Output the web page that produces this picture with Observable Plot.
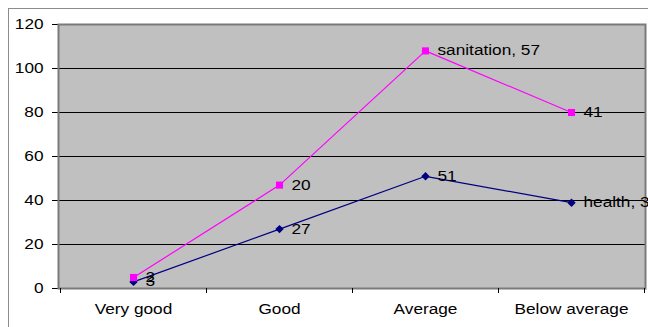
<!DOCTYPE html>
<html>
<head>
<meta charset="utf-8">
<script src="https://cdn.jsdelivr.net/npm/d3@7"></script>
<script src="https://cdn.jsdelivr.net/npm/@observablehq/plot@0.6"></script>
<style>
  html, body { margin: 0; padding: 0; background: #fff; overflow: hidden; }
  #chart { position: relative; width: 648px; height: 327px; }
  #border {
    position: absolute; left: 8px; top: 8px; width: 700px; height: 400px;
    border-left: 1px solid #8c8c8c; border-top: 1px solid #8c8c8c;
    pointer-events: none;
  }
</style>
</head>
<body>
<div id="chart"><div id="border"></div></div>
<script>
// Ratings and the two stacked series
const categories = ["Very good", "Good", "Average", "Below average"];
const seriesNames = ["health", "sanitation"];
const health = [3, 27, 51, 39];
const sanitation = [2, 20, 57, 41];
// category at which each series' label also carries the series name
const namedAt = ["Below average", "Average"];
const yTicks = [0, 20, 40, 60, 80, 100, 120];
const colors = ["#000080", "#ff00ff"];

// diamond sized to sit alongside the square markers
const diamond = {draw(context, size) { d3.symbolDiamond2.draw(context, size * 0.9); }};
const symbols = [diamond, d3.symbolSquare];

const rows = [health, sanitation].flatMap((vals, s) =>
  vals.map((v, i) => ({
    category: categories[i],
    series: seriesNames[s],
    value: v,
    label: categories[i] === namedAt[s] ? `${seriesNames[s]}, ${v}` : `${v}`
  }))
);

const stacked = (extra) => Plot.stackY2({x: "category", y: "value", z: "series", ...extra});

const plot = Plot.plot({
  width: 648,
  height: 327,
  marginLeft: 58,
  marginRight: 3,
  marginTop: 24,
  marginBottom: 39,
  style: {fontFamily: "'Liberation Sans', Arial, sans-serif", fontSize: "14px", background: "transparent", color: "#000"},
  x: {type: "band", domain: categories, padding: 0, tickSize: 0, tickPadding: 15.5, label: null},
  y: {domain: [0, 120], ticks: yTicks, tickSize: 6, tickPadding: 9, label: null},
  color: {domain: seriesNames, range: colors},
  symbol: {domain: seriesNames, range: symbols},
  marks: [
    Plot.frame({fill: "#c0c0c0"}),
    Plot.ruleY(yTicks.slice(1, -1), {stroke: "#000", strokeWidth: 1}),
    Plot.frame({stroke: "#7a7a7a", strokeWidth: 2}),
    Plot.lineY(rows, stacked({stroke: "series", strokeWidth: 1.2})),
    Plot.dot(rows, stacked({fill: "series", symbol: "series", r: 4, stroke: null})),
    Plot.text(rows, stacked({text: "label", textAnchor: "start", dx: 12, fill: "#000"}))
  ]
});

document.getElementById("chart").appendChild(plot);

// category boundary ticks below the horizontal axis
const xs = plot.scale("x");
const ys = plot.scale("y");
const y0 = ys.apply(0);
const bounds = categories.map(c => xs.apply(c)).concat([xs.apply(categories[categories.length - 1]) + xs.bandwidth]);
d3.select(plot).append("g")
  .attr("stroke", "#000")
  .selectAll("line")
  .data(bounds)
  .join("line")
  .attr("x1", d => Math.round(d) + 0.5).attr("x2", d => Math.round(d) + 0.5)
  .attr("y1", y0).attr("y2", y0 + 5);

// widen the lettering a little, like the original export
d3.select(plot).selectAll("text").each(function () {
  const len = this.getComputedTextLength();
  if (len > 0) {
    this.setAttribute("textLength", (len * 1.23).toFixed(1));
    this.setAttribute("lengthAdjust", "spacingAndGlyphs");
  }
});
</script>
</body>
</html>
